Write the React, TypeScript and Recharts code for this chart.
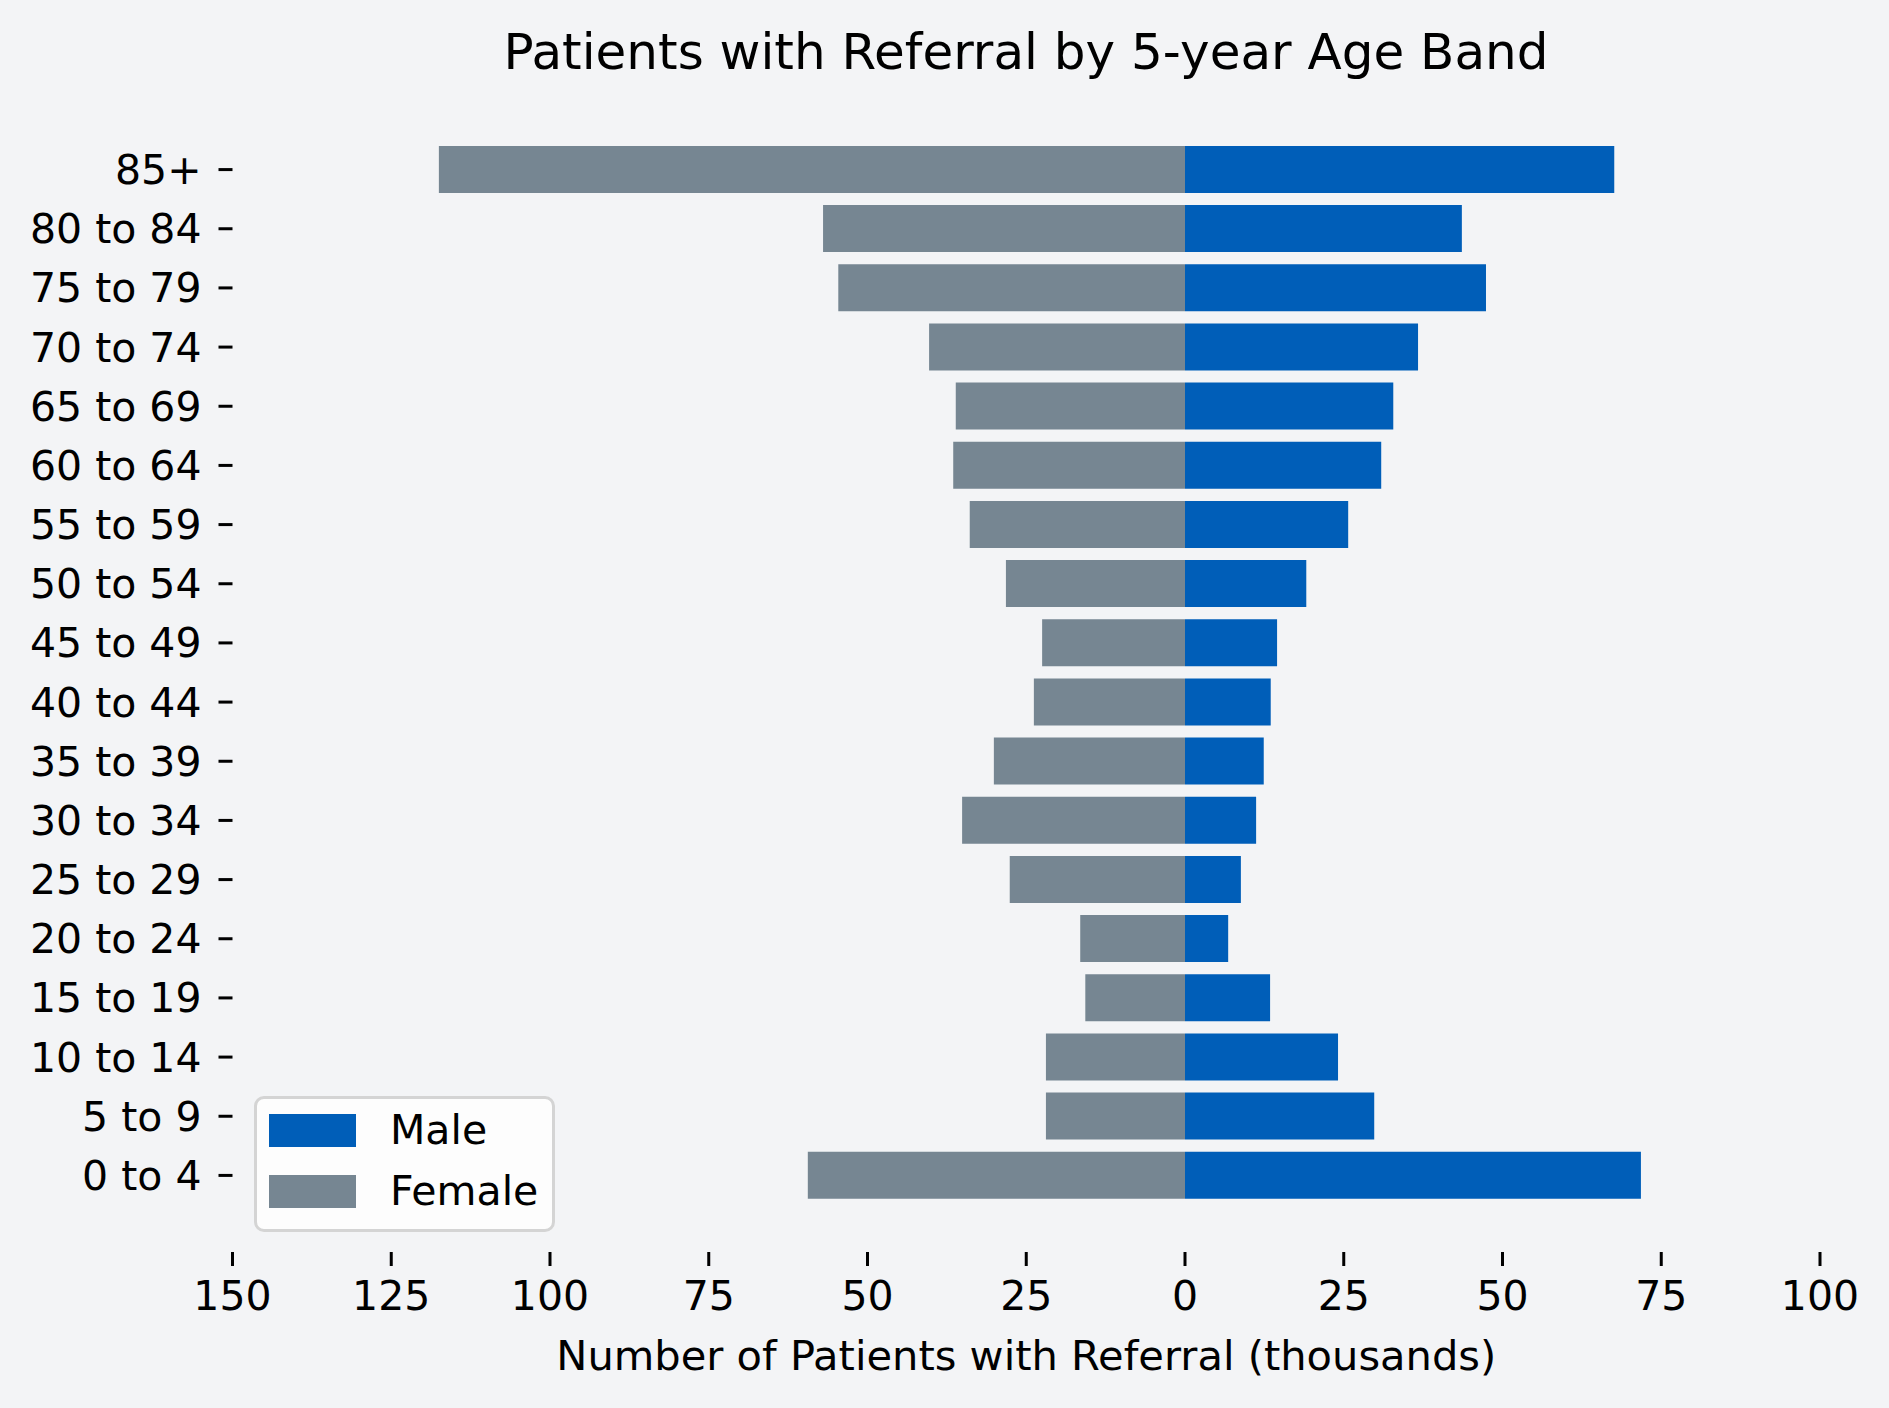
import { BarChart, Bar, XAxis, YAxis, Legend } from "recharts"

const ageBands = [
  "85+",
  "80 to 84",
  "75 to 79",
  "70 to 74",
  "65 to 69",
  "60 to 64",
  "55 to 59",
  "50 to 54",
  "45 to 49",
  "40 to 44",
  "35 to 39",
  "30 to 34",
  "25 to 29",
  "20 to 24",
  "15 to 19",
  "10 to 14",
  "5 to 9",
  "0 to 4",
]

// thousands of patients
const maleValues = [
  67.6, 43.6, 47.4, 36.7, 32.8, 30.9, 25.7, 19.1, 14.5, 13.5, 12.4, 11.2, 8.8,
  6.8, 13.4, 24.1, 29.8, 71.8,
]
const femaleValues = [
  117.5, 57.0, 54.6, 40.3, 36.1, 36.5, 33.9, 28.2, 22.5, 23.8, 30.1, 35.1,
  27.6, 16.5, 15.7, 21.9, 21.9, 59.4,
]

const xTicks = [-150, -125, -100, -75, -50, -25, 0, 25, 50, 75, 100]
const legendOrder = ["Male", "Female"]

const MALE = "#005EB8"
const FEMALE = "#768692"
const FONT = "DejaVu Sans"

const data = ageBands.map((band, i) => ({
  band,
  male: maleValues[i],
  female: -femaleValues[i],
}))

function LegendBox(props: any) {
  const items = [...(props.payload || [])].sort(
    (a: any, b: any) => legendOrder.indexOf(a.value) - legendOrder.indexOf(b.value)
  )
  return (
    <div
      style={{
        boxSizing: "border-box",
        width: 301,
        height: 136,
        background: "#fdfdfd",
        border: "3px solid #d4d4d4",
        borderRadius: 10,
        paddingTop: 1,
        paddingLeft: 12,
      }}
    >
      {items.map((item: any) => (
        <div
          key={item.value}
          style={{ display: "flex", alignItems: "center", height: 61 }}
        >
          <div style={{ width: 87, height: 33, background: item.color }} />
          <span
            style={{
              marginLeft: 34,
              fontSize: 41,
              fontFamily: FONT,
              color: "#000",
              lineHeight: "41px",
            }}
          >
            {item.value}
          </span>
        </div>
      ))}
    </div>
  )
}

export default function App() {
  return (
    <div
      style={{
        position: "absolute",
        left: 0,
        top: 0,
        width: 1889,
        height: 1408,
        background: "#f3f4f6",
        fontFamily: FONT,
      }}
    >
      <svg
        width={1889}
        height={110}
        style={{ position: "absolute", left: 0, top: 0 }}
      >
        <text
          x={1026}
          y={69}
          textAnchor="middle"
          fontSize={50}
          fontFamily={FONT}
          fill="#000"
        >
          Patients with Referral by 5-year Age Band
        </text>
      </svg>
      <BarChart
        width={1889}
        height={1408}
        data={data}
        layout="vertical"
        stackOffset="sign"
        barCategoryGap="10%"
        margin={{ top: 93, right: 69, bottom: 0, left: 0 }}
      >
        <XAxis
          type="number"
          domain={[-150, 100]}
          ticks={xTicks}
          tickFormatter={(v: number) => String(Math.abs(v))}
          allowDataOverflow
          axisLine={false}
          tickLine={{ stroke: "#000", strokeWidth: 3 }}
          tickSize={14}
          tickMargin={15}
          height={156}
          tick={{ fontSize: 41, fill: "#000", fontFamily: FONT }}
          label={{
            value: "Number of Patients with Referral (thousands)",
            position: "insideBottom",
            offset: 38,
            fontSize: 41.6,
            fill: "#000",
            fontFamily: FONT,
          }}
        />
        <YAxis
          type="category"
          dataKey="band"
          width={232.5}
          axisLine={false}
          tickLine={{ stroke: "#000", strokeWidth: 3 }}
          tickSize={14}
          tickMargin={17}
          interval={0}
          padding={{ top: 47, bottom: 47 }}
          tick={{ fontSize: 41, fill: "#000", fontFamily: FONT }}
        />
        <Legend
          layout="vertical"
          align="center"
          verticalAlign="middle"
          content={LegendBox}
          wrapperStyle={{ left: 254, top: 1096, width: 301, height: 136 }}
        />
        <Bar
          dataKey="male"
          name="Male"
          stackId="pop"
          fill={MALE}
          isAnimationActive={false}
        />
        <Bar
          dataKey="female"
          name="Female"
          stackId="pop"
          fill={FEMALE}
          isAnimationActive={false}
        />
      </BarChart>
    </div>
  )
}
